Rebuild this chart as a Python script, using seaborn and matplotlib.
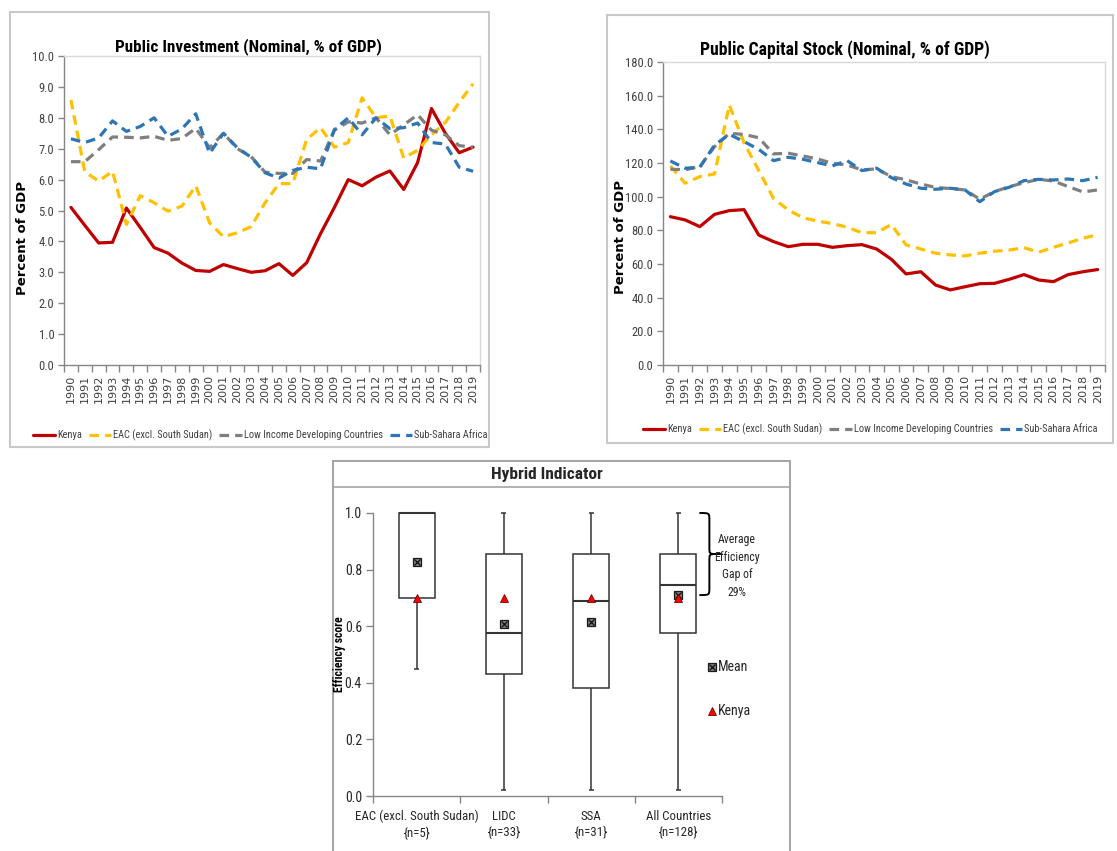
import numpy as np
import pandas as pd
import matplotlib
matplotlib.use("Agg")
import matplotlib.pyplot as plt
from matplotlib import font_manager
from matplotlib.lines import Line2D
from matplotlib.patches import Rectangle, PathPatch
from matplotlib.path import Path
import seaborn as sns

# ---------------------------------------------------------------- data
years = list(range(1990, 2020))
series_names = ["Kenya", "EAC (excl. South Sudan)",
                "Low Income Developing Countries", "Sub-Sahara Africa"]

# Public investment, % of GDP
inv_kenya = [5.10, 4.52, 3.95, 3.97, 5.08, 4.45, 3.80, 3.62, 3.30, 3.06,
             3.03, 3.25, 3.12, 3.00, 3.05, 3.28, 2.90, 3.31, 4.25, 5.10,
             6.00, 5.80, 6.08, 6.28, 5.68, 6.55, 8.30, 7.50, 6.87, 7.05]
inv_eac = [8.58, 6.25, 5.95, 6.27, 4.55, 5.48, 5.25, 4.98, 5.14, 5.80,
           4.60, 4.15, 4.28, 4.48, 5.25, 5.87, 5.87, 7.30, 7.68, 7.05,
           7.20, 8.65, 8.00, 8.06, 6.70, 6.95, 7.45, 7.85, 8.50, 9.10]
inv_lidc = [6.58, 6.58, 6.97, 7.38, 7.37, 7.35, 7.40, 7.27, 7.33, 7.66,
            7.03, 7.50, 7.00, 6.74, 6.24, 6.20, 6.20, 6.65, 6.60, 7.60,
            7.87, 7.83, 8.00, 7.45, 7.77, 8.10, 7.60, 7.45, 7.10, 7.05]
inv_ssa = [7.32, 7.20, 7.35, 7.90, 7.56, 7.72, 8.00, 7.40, 7.64, 8.13,
           6.85, 7.50, 7.03, 6.72, 6.22, 6.05, 6.30, 6.40, 6.35, 7.62,
           8.00, 7.45, 8.00, 7.65, 7.68, 7.83, 7.20, 7.15, 6.40, 6.27]

# Public capital stock, % of GDP
cap_kenya = [88.1, 86.2, 82.2, 89.5, 91.7, 92.3, 77.2, 73.3, 70.3, 71.7,
             71.7, 69.9, 70.9, 71.5, 68.9, 62.8, 54.1, 55.4, 47.5, 44.6,
             46.5, 48.3, 48.5, 50.9, 53.7, 50.5, 49.5, 53.7, 55.4, 56.7]
cap_eac = [118.2, 108.0, 111.9, 113.5, 154.5, 132.0, 115.5, 99.0, 92.0, 87.5,
           85.5, 84.0, 81.8, 78.6, 78.6, 83.5, 71.3, 68.9, 66.4, 65.4,
           64.8, 66.4, 67.6, 68.3, 69.7, 67.0, 69.9, 72.5, 75.3, 77.4]
cap_lidc = [116.3, 116.0, 117.8, 129.7, 137.6, 137.0, 135.0, 125.4, 125.8, 124.2,
            122.4, 119.8, 118.8, 115.9, 116.5, 111.9, 110.0, 107.5, 105.5, 104.8,
            104.0, 98.5, 103.0, 105.9, 108.3, 110.3, 109.3, 106.0, 102.8, 104.0]
cap_ssa = [121.2, 116.9, 117.5, 130.7, 137.0, 132.7, 128.1, 121.4, 123.4, 122.2,
           120.2, 118.3, 121.4, 115.5, 116.9, 111.3, 107.5, 105.0, 104.4, 105.0,
           104.0, 97.0, 103.0, 105.6, 109.5, 110.3, 109.9, 110.5, 109.5, 111.5]

# Hybrid efficiency indicator: box statistics per country group
box_groups = ["EAC (excl. South Sudan)", "LIDC", "SSA", "All Countries"]
box_counts = [5, 33, 31, 128]
box_min = [0.45, 0.02, 0.02, 0.02]
box_q1 = [0.70, 0.43, 0.38, 0.575]
box_median = [1.00, 0.575, 0.69, 0.745]
box_q3 = [1.00, 0.855, 0.855, 0.855]
box_max = [1.00, 1.00, 1.00, 1.00]
box_mean = [0.826, 0.607, 0.615, 0.710]
kenya_score = [0.70, 0.70, 0.70, 0.70]
gap_label = "Average\nEfficiency\nGap of\n29%"

# ---------------------------------------------------------------- style
palette = {"Kenya": "#C00000", "EAC (excl. South Sudan)": "#FFC000",
           "Low Income Developing Countries": "#7F7F7F",
           "Sub-Sahara Africa": "#2E75B6"}
DASH = (3.0, 1.9)
dashes = {"Kenya": "", "EAC (excl. South Sudan)": DASH,
          "Low Income Developing Countries": DASH, "Sub-Sahara Africa": DASH}

_installed = {f.name for f in font_manager.fontManager.ttflist}


def pick_font(*names):
    for n in names:
        if n in _installed:
            return n
    return "DejaVu Sans"


NARROW = pick_font("Liberation Sans Narrow", "Roboto Condensed",
                   "Open Sans Condensed", "Arial Narrow", "Liberation Sans")

sns.set_theme(style="white")
plt.rcParams["font.family"] = [NARROW, "DejaVu Sans"]

W, H = 1117, 851
fig = plt.figure(figsize=(W / 100, H / 100), dpi=100)
fig.patch.set_facecolor("white")


def fx(px):
    return px / W


def fy(py):
    return 1 - py / H


def axes_at(left, top, right, bottom):
    return fig.add_axes([fx(left), fy(bottom), (right - left) / W, (bottom - top) / H])


def frame(left, top, right, bottom, color="#C9C9C9", lw=1.5):
    fig.add_artist(Rectangle((fx(left), fy(bottom)), (right - left) / W, (bottom - top) / H,
                             transform=fig.transFigure, fill=False,
                             edgecolor=color, linewidth=lw))


TEXT = "#262626"
AXIS = "#868686"


def line_panel(ax, values, ymax, ystep):
    n = len(years)
    data = pd.DataFrame({
        "pos": np.tile(np.arange(n), len(series_names)),
        "value": np.concatenate(values),
        "series": np.repeat(series_names, n),
    })
    sns.lineplot(data=data, x="pos", y="value", hue="series", style="series",
                 hue_order=series_names, style_order=series_names,
                 palette=palette, dashes=dashes, linewidth=2.3,
                 estimator=None, sort=False, legend=False, ax=ax)
    ax.set_xlim(-0.5, n - 0.5)
    ax.set_ylim(0, ymax)
    ticks = np.arange(0, ymax + ystep / 2, ystep)
    ax.set_yticks(ticks)
    ax.set_yticklabels([f"{t:.1f}" for t in ticks], fontsize=9, color="#404040")
    ax.set_xticks(np.arange(n))
    ax.set_xticklabels([str(y) for y in years], rotation=90, fontsize=8,
                       family="DejaVu Sans", color="#404040")
    ax.set_xticks(np.arange(-0.5, n), minor=True)
    ax.tick_params(axis="x", which="major", bottom=True, length=0, pad=7)
    ax.tick_params(axis="x", which="minor", bottom=True, length=5, width=1,
                   color=AXIS, direction="out")
    ax.tick_params(axis="y", left=True, length=4, width=1, color=AXIS,
                   direction="out", pad=3)
    ax.set_xlabel("")
    ax.set_ylabel("")
    for s in ("left", "bottom"):
        ax.spines[s].set_color(AXIS)
        ax.spines[s].set_linewidth(1.0)
    for s in ("top", "right"):
        ax.spines[s].set_color("#D9D9D9")
        ax.spines[s].set_linewidth(1.0)


def line_legend(cx, cy):
    handles = [Line2D([], [], color=palette[s], linewidth=2.3,
                      linestyle="-" if s == "Kenya" else (0, DASH))
               for s in series_names]
    fig.legend(handles, series_names, loc="center", ncol=4,
               bbox_to_anchor=(fx(cx), fy(cy)), frameon=False, fontsize=7.5,
               handlelength=2.15, handletextpad=0.2, columnspacing=0.65,
               labelcolor="#404040", borderpad=0.2)


# ---------------------------------------------------------------- public investment
frame(10, 12, 489, 447)
ax1 = axes_at(64, 56, 480, 365)
line_panel(ax1, [inv_kenya, inv_eac, inv_lidc, inv_ssa], 10.0, 1.0)
fig.text(fx(248), fy(47), "Public Investment (Nominal, % of GDP)", ha="center",
         va="center", fontsize=12.3, fontweight="bold", color="black")
fig.text(fx(23), fy(238), "Percent of GDP", rotation=90, ha="center", va="center",
         fontsize=9.5, fontweight="bold", family="DejaVu Sans", color="black")
line_legend(260, 435)

# ---------------------------------------------------------------- public capital stock
frame(607, 15, 1113, 443)
ax2 = axes_at(663, 62, 1105, 365)
line_panel(ax2, [cap_kenya, cap_eac, cap_lidc, cap_ssa], 180.0, 20.0)
fig.text(fx(845), fy(50), "Public Capital Stock (Nominal, % of GDP)", ha="center",
         va="center", fontsize=12.7, fontweight="bold", color="black")
fig.text(fx(620), fy(237), "Percent of GDP", rotation=90, ha="center", va="center",
         fontsize=9.5, fontweight="bold", family="DejaVu Sans", color="black")
line_legend(870, 429)

# ---------------------------------------------------------------- hybrid indicator
frame(333, 461, 790, 853, color="#A6A6A6")
fig.add_artist(Line2D([fx(333), fx(790)], [fy(487), fy(487)],
                      transform=fig.transFigure, color="#A6A6A6", linewidth=1.2))
fig.text(fx(547), fy(475), "Hybrid Indicator", ha="center", va="center",
         fontsize=12.5, fontweight="semibold", color=TEXT)

bax = axes_at(373, 513, 722, 796)
box_values = np.column_stack([box_min, box_q1, box_median, box_q3, box_max])
box_frame = pd.DataFrame({"group": np.repeat(box_groups, box_values.shape[1]),
                          "score": box_values.ravel()})
BOXLINE = "#333333"
sns.boxplot(data=box_frame, x="group", y="score", order=box_groups,
            whis=(0, 100), width=0.41, color="white", linecolor=BOXLINE,
            linewidth=1.1, showcaps=False, showfliers=False,
            medianprops=dict(color=BOXLINE, linewidth=1.5), ax=bax)
for i in range(len(box_groups)):
    lo, hi = box_values[i].min(), box_values[i].max()
    bax.hlines([lo, hi], i - 0.03, i + 0.03, color=BOXLINE, linewidth=1.1)
for art in list(bax.lines) + list(bax.patches) + list(bax.collections):
    art.set_clip_on(False)

pos = np.arange(len(box_groups))
bax.plot(pos, box_mean, linestyle="none", marker="s", markersize=5.2,
         markerfacecolor="#7F7F7F", markeredgecolor="#1A1A1A",
         markeredgewidth=0.9, zorder=5, clip_on=False)
bax.plot(pos, box_mean, linestyle="none", marker="x", markersize=4.0,
         color="#111111", markeredgewidth=0.9, zorder=6, clip_on=False)
bax.plot(pos, kenya_score, linestyle="none", marker="^", markersize=5.5,
         markerfacecolor="#FF0000", markeredgecolor="#7A0000",
         markeredgewidth=0.6, zorder=7, clip_on=False)

bax.set_xlim(-0.5, len(box_groups) - 0.5)
bax.set_ylim(0, 1.0)
bax.set_yticks(np.arange(0, 1.01, 0.2))
bax.set_yticklabels([f"{t:.1f}" for t in np.arange(0, 1.01, 0.2)],
                    fontsize=10, color=TEXT)
bax.set_xticks(pos)
bax.set_xticklabels([f"{g}\n{{n={n}}}" for g, n in zip(box_groups, box_counts)],
                    fontsize=9.3, color=TEXT, linespacing=1.35)
bax.set_xticks(np.arange(-0.5, len(box_groups)), minor=True)
bax.tick_params(axis="x", which="major", bottom=True, length=0, pad=10)
bax.tick_params(axis="x", which="minor", bottom=True, length=5, width=1,
                color=AXIS, direction="out")
bax.tick_params(axis="y", left=True, length=5, width=1, color=AXIS,
                direction="out", pad=3)
bax.set_xlabel("")
bax.set_ylabel("")
for s in ("top", "right"):
    bax.spines[s].set_visible(False)
for s in ("left", "bottom"):
    bax.spines[s].set_color(AXIS)
    bax.spines[s].set_linewidth(1.0)
fig.text(fx(339), fy(654), "Efficiency score", rotation=90, ha="center",
         va="center", fontsize=8.5, fontweight="bold", color="black")


def draw_brace(ax, x_data, y_top, y_bottom):
    to_disp = ax.transData.transform
    x0, yt = to_disp((x_data, y_top))
    _, yb = to_disp((x_data, y_bottom))
    xl, xs, xt = x0 + 21, x0 + 31, x0 + 44
    ym = (yt + yb) / 2
    r = 7
    verts = [(xl, yt), (xs, yt), (xs, yt), (xs, yt - r),
             (xs, ym + r),
             (xs, ym), (xs, ym), (xs + r, ym),
             (xt, ym),
             (xs + r, ym), (xs, ym), (xs, ym), (xs, ym - r),
             (xs, yb + r),
             (xs, yb), (xs, yb), (xl, yb)]
    codes = [Path.MOVETO, Path.CURVE4, Path.CURVE4, Path.CURVE4,
             Path.LINETO,
             Path.CURVE4, Path.CURVE4, Path.CURVE4,
             Path.LINETO,
             Path.MOVETO, Path.CURVE4, Path.CURVE4, Path.CURVE4,
             Path.LINETO,
             Path.CURVE4, Path.CURVE4, Path.CURVE4]
    verts = fig.transFigure.inverted().transform(verts)
    fig.add_artist(PathPatch(Path(verts, codes), transform=fig.transFigure,
                             fill=False, edgecolor="black", linewidth=1.4))


last = len(box_groups) - 1
draw_brace(bax, last, box_max[last], box_mean[last])
fig.text(fx(737), fy(566), gap_label, ha="center", va="center", fontsize=8.5,
         color=TEXT, linespacing=1.45)

# marker key
fig.add_artist(Line2D([fx(712)], [fy(667)], transform=fig.transFigure,
                      linestyle="none", marker="s", markersize=5.2,
                      markerfacecolor="#7F7F7F", markeredgecolor="#1A1A1A",
                      markeredgewidth=0.9))
fig.add_artist(Line2D([fx(712)], [fy(667)], transform=fig.transFigure,
                      linestyle="none", marker="x", markersize=4.0,
                      color="#111111", markeredgewidth=0.9))
fig.text(fx(718), fy(667), "Mean", ha="left", va="center", fontsize=10, color=TEXT)
fig.add_artist(Line2D([fx(712)], [fy(711)], transform=fig.transFigure,
                      linestyle="none", marker="^", markersize=5.5,
                      markerfacecolor="#FF0000", markeredgecolor="#7A0000",
                      markeredgewidth=0.6))
fig.text(fx(718), fy(711), "Kenya", ha="left", va="center", fontsize=10, color=TEXT)

fig.savefig("out.png", dpi=100, facecolor="white")
